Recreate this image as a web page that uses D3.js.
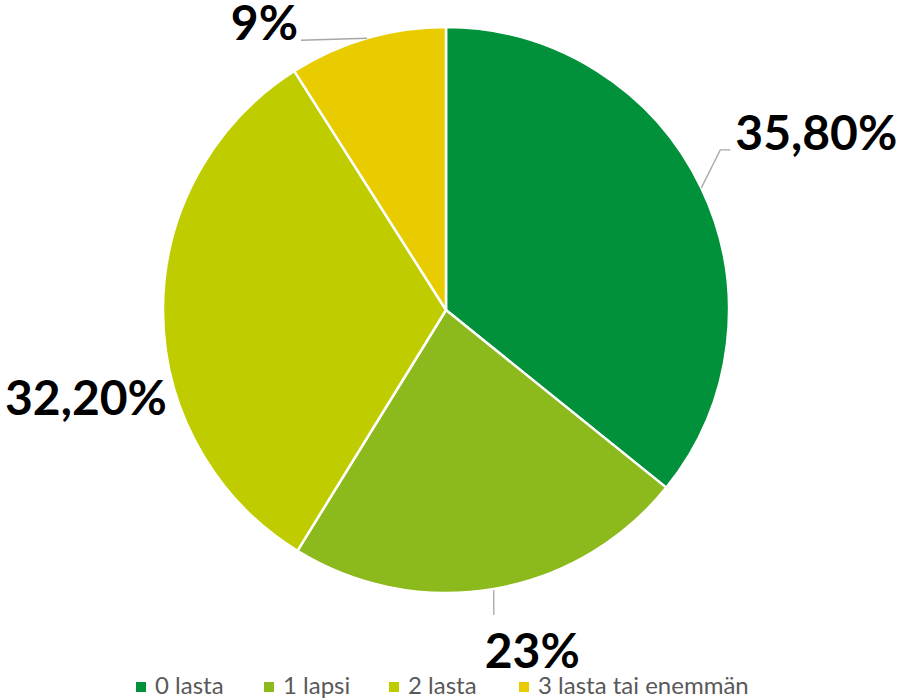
<!DOCTYPE html>
<html>
<head>
<meta charset="utf-8">
<script src="https://cdn.jsdelivr.net/npm/d3@7"></script>
<style>
  html, body { margin: 0; padding: 0; background: #fff; }
  svg { display: block; }
</style>
</head>
<body>
<svg id="chart" width="903" height="700"></svg>
<script>
// Household share by number of children
const categories = ["0 lasta", "1 lapsi", "2 lasta", "3 lasta tai enemmän"];
const values = [35.8, 23, 32.2, 9];
const valueLabels = ["35,80%", "23%", "32,20%", "9%"];
const colors = ["#00913a", "#8cb91b", "#bfcd00", "#e8cc00"];

const svg = d3.select("#chart");
const cx = 446, cy = 310, radius = 283;

const pie = d3.pie().sort(null).value(d => d.value);
const arcs = pie(categories.map((c, i) => ({ name: c, value: values[i], label: valueLabels[i], color: colors[i] })));

const arc = d3.arc().innerRadius(0).outerRadius(radius);

const g = svg.append("g").attr("transform", `translate(${cx},${cy})`);

g.selectAll("path.slice")
  .data(arcs)
  .join("path")
  .attr("class", "slice")
  .attr("d", arc)
  .attr("fill", d => d.data.color)
  .attr("stroke", "#fff")
  .attr("stroke-width", 2.5)
  .attr("stroke-linejoin", "round");

// point on the rim at the middle of a slice
function rim(d, r) {
  const a = (d.startAngle + d.endAngle) / 2;
  return [Math.sin(a) * r, -Math.cos(a) * r];
}

// label placement: leader path relative to the rim point, then text anchor
const labelLayout = [
  { leader: p => [p, [p[0] + 19, p[1] - 38], [p[0] + 29, p[1] - 38]], text: p => [p[0] + 34, p[1] - 38], anchor: "start" },
  { leader: p => [[p[0], p[1] + 1], [p[0], p[1] + 26]], text: p => [p[0] - 9, p[1] + 79], anchor: "start" },
  { leader: null, text: p => [p[0] - 158, p[1] + 103], anchor: "start" },
  { leader: p => [p, [p[0] - 66, p[1] + 2]], text: p => [p[0] - 69, p[1] + 2], anchor: "end" }
];

const line = d3.line();
arcs.forEach((d, i) => {
  const p = rim(d, radius);
  const L = labelLayout[i];
  if (L.leader) {
    g.append("path")
      .attr("d", line(L.leader(p)))
      .attr("fill", "none")
      .attr("stroke", "#a6a6a6")
      .attr("stroke-width", 1.3);
  }
  const t = L.text(p);
  g.append("text")
    .attr("x", t[0])
    .attr("y", t[1])
    .attr("text-anchor", L.anchor)
    .attr("font-family", "Lato, 'Open Sans', sans-serif")
    .attr("font-weight", "bold")
    .attr("font-size", 48)
    .attr("fill", "#000")
    .text(d.data.label);
});

// legend
const legendX = [136, 264, 389, 519];
const legend = svg.append("g");
categories.forEach((c, i) => {
  const item = legend.append("g").attr("transform", `translate(${legendX[i]},687)`);
  item.append("rect")
    .attr("x", 0).attr("y", -5)
    .attr("width", 10).attr("height", 10)
    .attr("fill", colors[i]);
  item.append("text")
    .attr("x", 19).attr("y", 7)
    .attr("font-family", "Lato, 'Open Sans', sans-serif")
    .attr("font-size", 24)
    .attr("fill", "#595959")
    .text(c);
});
</script>
</body>
</html>
